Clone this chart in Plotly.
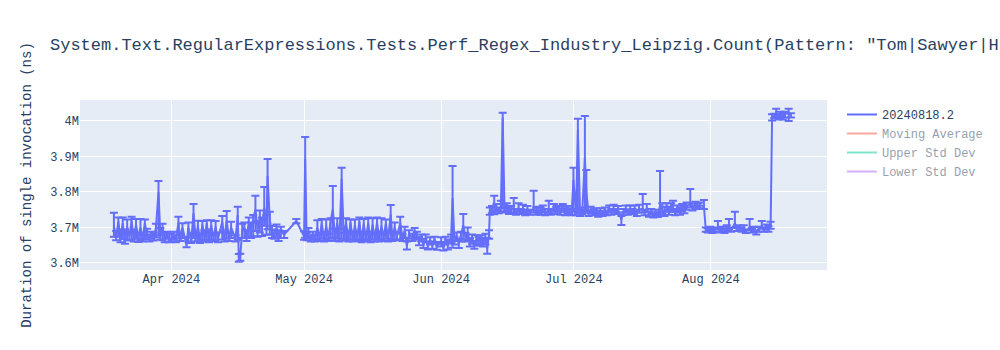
import numpy as np
import pandas as pd
import plotly.graph_objects as go

TITLE = ('System.Text.RegularExpressions.Tests.Perf_Regex_Industry_Leipzig.Count'
         '(Pattern: "Tom|Sawyer|Huckleberry|Finn", Options: None)')
BUILD = "20240818.2"
NS_PER_K = 1000  # the lists below are in thousands of nanoseconds

run_dates = [
    # mid March - mid April
    "2024-03-19 00:00", "2024-03-19 12:00", "2024-03-20 00:00", "2024-03-20 12:00", "2024-03-21 00:00", "2024-03-21 12:00",
    "2024-03-22 00:00", "2024-03-22 12:00", "2024-03-23 00:00", "2024-03-23 12:00", "2024-03-24 00:00", "2024-03-24 12:00",
    "2024-03-25 00:00", "2024-03-25 12:00", "2024-03-26 00:00", "2024-03-26 12:00", "2024-03-27 00:00", "2024-03-27 12:00",
    "2024-03-28 00:00", "2024-03-28 12:00", "2024-03-29 02:00", "2024-03-29 12:00", "2024-03-30 00:00", "2024-03-30 12:00",
    "2024-03-31 00:00", "2024-03-31 12:00", "2024-04-01 00:00", "2024-04-01 12:00", "2024-04-02 00:00", "2024-04-02 14:00",
    "2024-04-03 00:00", "2024-04-03 12:00", "2024-04-04 10:00", "2024-04-04 20:00", "2024-04-05 12:00", "2024-04-06 00:00",
    "2024-04-06 12:00", "2024-04-07 00:00", "2024-04-07 12:00", "2024-04-08 00:00", "2024-04-08 12:00", "2024-04-09 00:00",
    "2024-04-09 12:00", "2024-04-10 00:00", "2024-04-10 12:00", "2024-04-11 00:00", "2024-04-11 12:00", "2024-04-12 12:00",
    "2024-04-13 00:00", "2024-04-13 12:00", "2024-04-14 00:00", "2024-04-14 12:00", "2024-04-15 12:00", "2024-04-16 00:00",
    "2024-04-16 06:00", "2024-04-16 14:00", "2024-04-17 00:00",
    # late April
    "2024-04-17 12:00", "2024-04-18 00:00", "2024-04-18 12:00", "2024-04-19 00:00", "2024-04-19 12:00", "2024-04-20 00:00",
    "2024-04-20 12:00", "2024-04-21 00:00", "2024-04-21 12:00", "2024-04-22 00:00", "2024-04-22 12:00", "2024-04-22 18:00",
    "2024-04-23 06:00", "2024-04-23 18:00", "2024-04-24 06:00", "2024-04-24 18:00", "2024-04-25 06:00", "2024-04-25 18:00",
    "2024-04-26 12:00", "2024-04-29 06:00", "2024-05-01 00:00", "2024-05-01 06:00", "2024-05-01 14:00",
    # May
    "2024-05-02 00:00", "2024-05-02 12:00", "2024-05-03 00:00", "2024-05-03 12:00", "2024-05-04 00:00", "2024-05-04 12:00",
    "2024-05-05 00:00", "2024-05-05 12:00", "2024-05-06 00:00", "2024-05-06 12:00", "2024-05-07 00:00", "2024-05-07 12:00",
    "2024-05-08 00:00", "2024-05-08 12:00", "2024-05-09 00:00", "2024-05-09 12:00", "2024-05-10 00:00", "2024-05-10 12:00",
    "2024-05-11 00:00", "2024-05-11 12:00", "2024-05-12 00:00", "2024-05-12 12:00", "2024-05-13 00:00", "2024-05-13 12:00",
    "2024-05-14 00:00", "2024-05-14 12:00", "2024-05-15 00:00", "2024-05-15 12:00", "2024-05-16 00:00", "2024-05-16 12:00",
    "2024-05-17 00:00", "2024-05-17 12:00", "2024-05-18 00:00", "2024-05-18 12:00", "2024-05-19 00:00", "2024-05-19 12:00",
    "2024-05-20 00:00", "2024-05-20 14:00", "2024-05-21 00:00", "2024-05-21 12:00", "2024-05-22 00:00", "2024-05-22 18:00",
    "2024-05-23 06:00", "2024-05-23 18:00", "2024-05-24 06:00", "2024-05-24 18:00", "2024-05-25 12:00", "2024-05-26 00:00",
    "2024-05-26 12:00", "2024-05-27 00:00", "2024-05-27 12:00", "2024-05-28 00:00", "2024-05-28 12:00", "2024-05-29 00:00",
    "2024-05-29 12:00", "2024-05-30 00:00", "2024-05-30 12:00", "2024-05-31 00:00",
    # early June
    "2024-06-01 00:00", "2024-06-01 12:00", "2024-06-02 00:00", "2024-06-02 12:00", "2024-06-03 06:00", "2024-06-03 14:00",
    "2024-06-04 00:00", "2024-06-04 12:00", "2024-06-05 00:00", "2024-06-05 12:00", "2024-06-06 00:00", "2024-06-06 12:00",
    "2024-06-07 00:00", "2024-06-07 12:00", "2024-06-08 00:00", "2024-06-08 12:00", "2024-06-09 00:00", "2024-06-09 12:00",
    "2024-06-10 00:00", "2024-06-10 12:00", "2024-06-11 00:00", "2024-06-11 10:00", "2024-06-11 20:00",
    # mid June - early July
    "2024-06-12 00:00", "2024-06-12 12:00", "2024-06-13 00:00", "2024-06-13 12:00", "2024-06-14 00:00", "2024-06-14 12:00",
    "2024-06-14 22:00", "2024-06-15 08:00", "2024-06-15 20:00", "2024-06-16 08:00", "2024-06-16 20:00", "2024-06-17 10:00",
    "2024-06-17 22:00", "2024-06-18 12:00", "2024-06-19 00:00", "2024-06-19 12:00", "2024-06-20 00:00", "2024-06-20 12:00",
    "2024-06-21 00:00", "2024-06-21 22:00", "2024-06-22 12:00", "2024-06-23 00:00", "2024-06-23 12:00", "2024-06-24 00:00",
    "2024-06-24 12:00", "2024-06-25 08:00", "2024-06-25 20:00", "2024-06-26 12:00", "2024-06-27 00:00", "2024-06-27 12:00",
    "2024-06-28 00:00", "2024-06-28 12:00", "2024-06-29 00:00", "2024-06-29 12:00", "2024-06-30 00:00", "2024-06-30 12:00",
    "2024-06-30 22:00", "2024-07-01 12:00", "2024-07-01 22:00", "2024-07-02 10:00", "2024-07-02 22:00", "2024-07-03 12:00",
    "2024-07-03 20:00",
    # July
    "2024-07-04 08:00", "2024-07-04 20:00", "2024-07-05 12:00", "2024-07-06 00:00", "2024-07-06 12:00", "2024-07-07 00:00",
    "2024-07-07 12:00", "2024-07-08 00:00", "2024-07-08 12:00", "2024-07-09 00:00", "2024-07-09 12:00", "2024-07-10 00:00",
    "2024-07-10 12:00", "2024-07-11 00:00", "2024-07-11 18:00", "2024-07-12 06:00", "2024-07-12 18:00", "2024-07-13 06:00",
    "2024-07-13 18:00", "2024-07-14 06:00", "2024-07-14 18:00", "2024-07-15 06:00", "2024-07-15 18:00", "2024-07-16 14:00",
    "2024-07-17 00:00", "2024-07-17 12:00", "2024-07-18 00:00", "2024-07-18 12:00", "2024-07-19 00:00", "2024-07-19 12:00",
    "2024-07-20 00:00", "2024-07-20 12:00", "2024-07-21 00:00", "2024-07-21 12:00", "2024-07-22 00:00", "2024-07-22 12:00",
    "2024-07-23 00:00", "2024-07-23 10:00", "2024-07-23 22:00", "2024-07-24 12:00", "2024-07-25 00:00", "2024-07-25 12:00",
    "2024-07-26 00:00", "2024-07-26 12:00", "2024-07-27 08:00", "2024-07-27 20:00", "2024-07-28 12:00", "2024-07-29 00:00",
    "2024-07-29 12:00", "2024-07-30 10:00", "2024-07-30 20:00",
    # early August
    "2024-07-31 08:00", "2024-07-31 20:00", "2024-08-01 08:00", "2024-08-01 20:00", "2024-08-02 14:00", "2024-08-03 02:00",
    "2024-08-03 14:00", "2024-08-04 02:00", "2024-08-04 14:00", "2024-08-05 02:00", "2024-08-05 14:00", "2024-08-06 10:00",
    "2024-08-06 22:00", "2024-08-07 10:00", "2024-08-07 22:00", "2024-08-08 10:00", "2024-08-08 22:00", "2024-08-09 18:00",
    "2024-08-10 06:00", "2024-08-10 18:00", "2024-08-11 06:00", "2024-08-11 18:00", "2024-08-12 12:00", "2024-08-13 00:00",
    "2024-08-13 12:00", "2024-08-14 00:00", "2024-08-14 12:00", "2024-08-14 20:00",
    # mid August
    "2024-08-15 08:00", "2024-08-15 18:00", "2024-08-16 06:00", "2024-08-16 18:00", "2024-08-17 06:00", "2024-08-17 18:00",
    "2024-08-18 14:00", "2024-08-19 02:00",
]

duration_k = [
    3704, 3672, 3716, 3668, 3712, 3662,
    3702, 3674, 3718, 3666, 3708, 3671,
    3700, 3668, 3712, 3676, 3668, 3680,
    3671, 3698, 3800, 3678, 3700, 3666,
    3680, 3664, 3669, 3678, 3666, 3712,
    3670, 3700, 3650, 3700, 3664, 3740,
    3668, 3705, 3662, 3708, 3668, 3712,
    3664, 3706, 3670, 3702, 3666, 3716,
    3668, 3720, 3672, 3700, 3668, 3735,
    3614, 3620, 3690,

    3700, 3672, 3712, 3684, 3725, 3750,
    3694, 3730, 3700, 3755, 3705, 3845,
    3720, 3690, 3676, 3698, 3672, 3690,
    3680, 3718, 3675, 3893, 3672,

    3680, 3668, 3676, 3666, 3700, 3670,
    3712, 3668, 3704, 3672, 3716, 3752,
    3670, 3712, 3668, 3837, 3674, 3712,
    3666, 3714, 3668, 3706, 3672, 3716,
    3664, 3710, 3670, 3712, 3666, 3708,
    3670, 3714, 3668, 3704, 3672, 3712,
    3668, 3736, 3670, 3700, 3676, 3712,
    3672, 3690, 3648, 3682, 3670, 3690,
    3676, 3660, 3672, 3650, 3668, 3646,
    3664, 3648, 3668, 3645,

    3660, 3645, 3664, 3650, 3672, 3783,
    3662, 3676, 3654, 3680, 3706, 3672,
    3684, 3658, 3672, 3650, 3668, 3660,
    3670, 3656, 3672, 3640, 3684,

    3744, 3750, 3743, 3752, 3746, 3755,
    4008, 3750, 3758, 3744, 3752, 3750,
    3742, 3754, 3744, 3750, 3740, 3748,
    3742, 3752, 3744, 3750, 3742, 3752,
    3740, 3750, 3742, 3754, 3744, 3752,
    3742, 3756, 3740, 3750, 3746, 3740,
    3834, 3740, 3975, 3738, 3746, 3896,
    3800,

    3738, 3750, 3740, 3746, 3736, 3742,
    3738, 3746, 3740, 3750, 3742, 3754,
    3744, 3750, 3722, 3744, 3752, 3742,
    3750, 3744, 3752, 3738, 3750, 3752,
    3740, 3754, 3736, 3742, 3734, 3740,
    3735, 3762, 3750, 3738, 3754, 3742,
    3756, 3752, 3740, 3752, 3742, 3756,
    3748, 3760, 3766, 3756, 3764, 3758,
    3762, 3760, 3694,

    3690, 3696, 3688, 3694, 3700, 3690,
    3696, 3688, 3698, 3702, 3692, 3712,
    3696, 3700, 3692, 3698, 3688, 3700,
    3690, 3696, 3686, 3694, 3704, 3692,
    3700, 3694, 3704, 4011,

    4014, 4016, 4010, 4018, 4012, 4020, 4022, 4016,
]

err_plus_k = [
    37, 18, 12, 26, 16, 32,
    20, 10, 12, 28, 16, 14,
    24, 10, 10, 20, 12, 8,
    14, 12, 31, 20, 10, 20,
    8, 18, 14, 10, 12, 18,
    10, 12, 22, 14, 20, 26,
    10, 14, 20, 10, 24, 8,
    30, 14, 10, 16, 20, 16,
    20, 26, 12, 16, 10, 23,
    11, 6, 20,

    14, 20, 16, 30, 10, 39,
    24, 18, 28, 59, 30, 48,
    24, 14, 18, 10, 20, 12,
    10, 6, 14, 62, 12,

    18, 10, 12, 14, 20, 10,
    12, 18, 18, 10, 10, 65,
    26, 14, 16, 31, 22, 14,
    24, 8, 20, 16, 14, 12,
    24, 14, 12, 16, 22, 18,
    12, 14, 20, 22, 10, 10,
    18, 27, 16, 14, 10, 18,
    10, 12, 12, 10, 12, 8,
    12, 14, 8, 18, 12, 14,
    8, 12, 6, 14,

    12, 14, 10, 16, 8, 90,
    12, 10, 14, 8, 32, 12,
    16, 12, 8, 12, 10, 12,
    8, 14, 10, 30, 8,

    12, 10, 46, 14, 10, 20,
    15, 12, 10, 14, 8, 33,
    10, 14, 8, 14, 10, 12,
    8, 51, 12, 8, 14, 10,
    12, 25, 10, 12, 14, 8,
    12, 10, 14, 10, 8, 12,
    34, 10, 31, 12, 10, 118,
    62,

    10, 8, 12, 8, 10, 12,
    8, 10, 8, 12, 10, 10,
    8, 10, 10, 8, 10, 8,
    12, 8, 10, 12, 14, 42,
    10, 12, 8, 10, 8, 10,
    8, 97, 18, 20, 14, 16,
    12, 23, 12, 10, 14, 10,
    12, 10, 42, 12, 8, 10,
    8, 17, 6,

    8, 6, 8, 6, 18, 8,
    6, 8, 8, 22, 8, 32,
    8, 6, 8, 8, 6, 24,
    8, 6, 6, 8, 14, 8,
    8, 10, 12, 8,

    6, 18, 10, 8, 10, 6, 12, 6,
]

err_minus_k = [
    30, 8, 42, 10, 45, 8,
    38, 10, 52, 6, 40, 12,
    36, 8, 44, 10, 8, 12,
    8, 26, 122, 12, 36, 8,
    12, 6, 8, 12, 8, 44,
    8, 30, 6, 40, 8, 70,
    8, 42, 6, 44, 8, 48,
    6, 40, 8, 38, 8, 50,
    8, 52, 10, 30, 8, 70,
    11, 14, 20,

    30, 10, 40, 14, 50, 60,
    20, 44, 24, 50, 26, 150,
    40, 20, 8, 24, 10, 20,
    10, 6, 10, 222, 8,

    10, 8, 10, 6, 34, 8,
    44, 8, 38, 10, 48, 80,
    8, 44, 8, 168, 10, 46,
    6, 48, 8, 40, 10, 50,
    6, 44, 8, 46, 8, 42,
    10, 48, 8, 38, 10, 44,
    8, 70, 8, 34, 12, 46,
    10, 20, 10, 14, 8, 20,
    10, 10, 12, 8, 10, 8,
    12, 8, 14, 8,

    14, 10, 12, 12, 16, 140,
    10, 14, 12, 20, 40, 12,
    20, 12, 18, 10, 16, 12,
    16, 10, 20, 14, 16,

    8, 10, 6, 8, 6, 10,
    255, 8, 12, 6, 10, 10,
    6, 10, 6, 8, 6, 8,
    6, 10, 8, 10, 6, 10,
    6, 10, 6, 10, 6, 8,
    6, 12, 6, 8, 8, 6,
    90, 6, 235, 6, 8, 150,
    58,

    6, 10, 6, 8, 6, 6,
    6, 8, 6, 8, 6, 10,
    6, 8, 15, 8, 10, 6,
    8, 6, 10, 6, 8, 10,
    6, 10, 6, 6, 6, 6,
    6, 30, 14, 6, 10, 6,
    12, 8, 6, 10, 6, 10,
    8, 10, 10, 8, 10, 6,
    8, 8, 6,

    4, 6, 4, 6, 6, 4,
    6, 4, 8, 8, 4, 14,
    6, 8, 4, 6, 4, 8,
    4, 8, 6, 6, 8, 4,
    6, 6, 8, 10,

    6, 8, 6, 10, 8, 10, 22, 6,
]

assert len(run_dates) == len(duration_k) == len(err_plus_k) == len(err_minus_k)

x = pd.to_datetime(run_dates)
y = np.array(duration_k, dtype=float) * NS_PER_K
e_hi = np.array(err_plus_k, dtype=float) * NS_PER_K
e_lo = np.array(err_minus_k, dtype=float) * NS_PER_K

# rolling statistics (hidden by default, toggled from the legend)
series = pd.Series(y)
moving_avg = series.rolling(window=10, min_periods=1).mean()
moving_std = series.rolling(window=10, min_periods=1).std().fillna(0)

fig = go.Figure()
fig.add_trace(go.Scatter(
    x=x, y=y, mode="lines", name=BUILD,
    line=dict(color="#636efa", width=2),
    error_y=dict(type="data", symmetric=False, array=e_hi, arrayminus=e_lo,
                 color="#636efa", thickness=2, width=4),
))
fig.add_trace(go.Scatter(x=x, y=moving_avg, mode="lines", name="Moving Average",
                         line=dict(color="#EF553B"), visible="legendonly"))
fig.add_trace(go.Scatter(x=x, y=moving_avg + moving_std, mode="lines", name="Upper Std Dev",
                         line=dict(color="#00cc96"), visible="legendonly"))
fig.add_trace(go.Scatter(x=x, y=moving_avg - moving_std, mode="lines", name="Lower Std Dev",
                         line=dict(color="#ab63fa"), visible="legendonly"))

fig.update_layout(
    template="plotly",
    width=1000,
    height=350,
    font=dict(family="Courier New, monospace"),
    title=dict(text=TITLE),
    xaxis=dict(range=["2024-03-11 08:00", "2024-08-27 06:00"]),
    yaxis=dict(title=dict(text="Duration of single invocation (ns)"),
               range=[3.58e6, 4.059e6]),
)

fig.write_html("out.html")
